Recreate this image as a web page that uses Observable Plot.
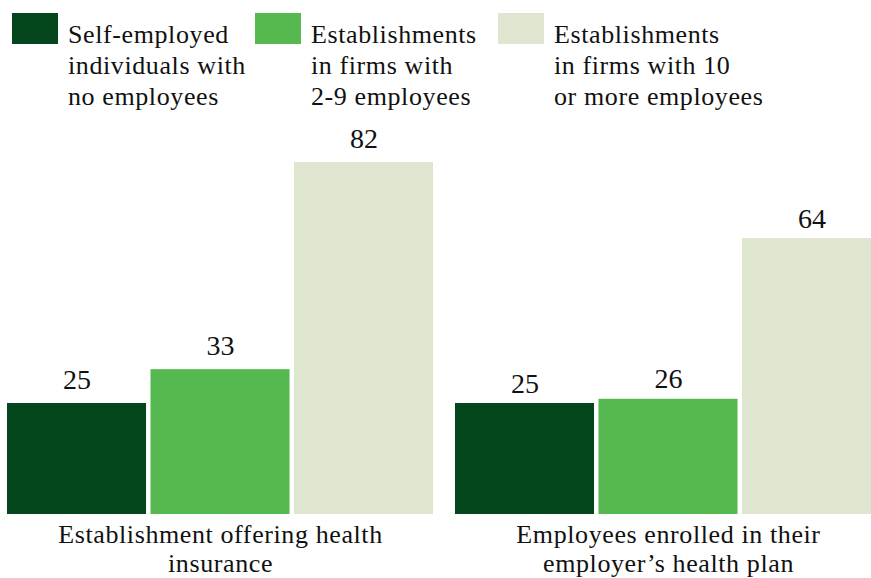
<!DOCTYPE html>
<html><head><meta charset="utf-8">
<script src="https://cdn.jsdelivr.net/npm/d3@7"></script>
<script src="https://cdn.jsdelivr.net/npm/@observablehq/plot@0.6"></script>
<style>
html,body{margin:0;padding:0;background:#fff;}
body{width:871px;height:578px;overflow:hidden;color:#111;font-family:'Liberation Serif', serif;}
#legend{position:relative;height:115px;}
.item{position:absolute;top:0;}
.sw{position:absolute;top:13px;left:0;width:46px;height:31px;}
.lbl{position:absolute;left:56px;top:19px;font-size:26px;line-height:31px;letter-spacing:0.6px;white-space:pre;}
#chart svg{display:block;overflow:visible;max-width:none !important;height:463px !important;}
#chart svg text{font-family:'Liberation Serif', serif;}
#chart svg .glabel text{letter-spacing:0.6px;}
</style></head>
<body>
<div id="legend"></div>
<div id="chart"></div>
<script>
const groups = ["Establishment offering health insurance", "Employees enrolled in their employer’s health plan"];
const groupLabels = ["Establishment offering health\ninsurance", "Employees enrolled in their\nemployer’s health plan"];
const series = ["Self-employed individuals with no employees", "Establishments in firms with 2-9 employees", "Establishments in firms with 10 or more employees"];
const seriesLabels = ["Self-employed\nindividuals with\nno employees", "Establishments\nin firms with\n2-9 employees", "Establishments\nin firms with 10\nor more employees"];
const colors = ["#03461c", "#56b950", "#dfe6cf"];
const offeringValues = [25, 33, 82];
const enrolledValues = [25, 26, 64];
const Y_MIN = -1.25;
const FONT = "'Liberation Serif', serif";

const data = [];
series.forEach((s, i) => data.push({group: groups[0], series: s, value: offeringValues[i]}));
series.forEach((s, i) => data.push({group: groups[1], series: s, value: enrolledValues[i]}));

const legend = document.getElementById("legend");
series.forEach((s, i) => {
  const item = document.createElement("div");
  item.className = "item";
  item.style.left = (12 + i * 243) + "px";
  const sw = document.createElement("div");
  sw.className = "sw";
  sw.style.background = colors[i];
  const lbl = document.createElement("div");
  lbl.className = "lbl";
  lbl.style.fontFamily = FONT;
  lbl.textContent = seriesLabels[i];
  item.appendChild(sw); item.appendChild(lbl);
  legend.appendChild(item);
});

const chart = Plot.plot({
  width: 881,
  height: 463,
  marginLeft: 7,
  marginRight: 0,
  marginTop: 47,
  marginBottom: 64,
  style: {fontFamily: FONT, background: "transparent", color: "#111", maxWidth: "none"},
  fx: {domain: groups, paddingInner: 0.049, paddingOuter: 0, round: false, axis: null, label: null},
  x: {domain: series, paddingInner: 0.031, paddingOuter: 0, round: false, axis: null, label: null},
  y: {domain: [Y_MIN, 82], axis: null, label: null},
  color: {domain: series, range: colors},
  marks: [
    Plot.barY(data, {fx: "group", x: "series", y1: Y_MIN, y2: "value", fill: "series"}),
    Plot.text(data.filter(d => d.group === groups[0]), {fx: "group", x: "series", y: "value", text: d => String(d.value), lineAnchor: "bottom", dy: -15, fontSize: 28, fill: "#111"}),
    Plot.text(data.filter(d => d.group === groups[1]), {fx: "group", x: "series", y: "value", text: d => String(d.value), lineAnchor: "bottom", dy: -11, fontSize: 28, fill: "#111"}),
    Plot.text(groups, {fx: d => d, text: d => groupLabels[groups.indexOf(d)], frameAnchor: "bottom", lineAnchor: "top", dy: 8.5, fontSize: 26, lineHeight: 1.1, fill: "#111", className: "glabel"})
  ]
});
document.getElementById("chart").appendChild(chart);
</script>
</body></html>
